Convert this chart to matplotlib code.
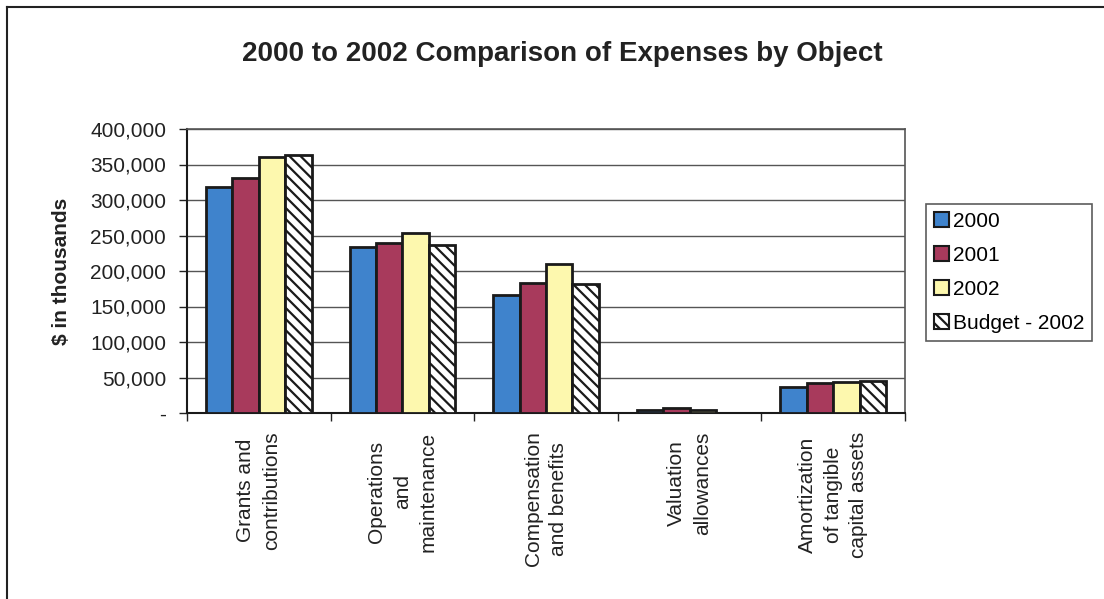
import matplotlib
matplotlib.use("Agg")
import matplotlib.pyplot as plt
from matplotlib.lines import Line2D
from matplotlib.patches import Patch
from matplotlib.ticker import FuncFormatter, MultipleLocator
import numpy as np

plt.rcParams['font.family'] = ['Liberation Sans', 'DejaVu Sans']
plt.rcParams['hatch.linewidth'] = 1.6

categories = [
    "Grants and\ncontributions",
    "Operations\nand\nmaintenance",
    "Compensation\nand benefits",
    "Valuation\nallowances",
    "Amortization\nof tangible\ncapital assets",
]
series_names = ["2000", "2001", "2002", "Budget - 2002"]
values_2000 = [318000, 234000, 166000, 4000, 36000]
values_2001 = [331000, 240000, 183000, 6500, 42000]
values_2002 = [360000, 254000, 210000, 4500, 43000]
values_budget = [364000, 237000, 182000, 0, 45000]

colors = ["#3f83cc", "#a83a5c", "#fdf8ae", "white"]
hatches = [None, None, None, "\\\\\\"]

W, H = 1104, 599
fig = plt.figure(figsize=(W / 100, H / 100), dpi=100)
ax = fig.add_axes([187 / W, (H - 413) / H, 718 / W, 284 / H])

x = np.arange(len(categories))
bw = 0.184
all_series = [values_2000, values_2001, values_2002, values_budget]
for i, vals in enumerate(all_series):
    offs = (i - 1.5) * bw
    ax.bar(x + offs, vals, width=bw, color=colors[i], edgecolor="#1a1a1a",
           linewidth=2, hatch=hatches[i], zorder=3)

ax.set_xlim(-0.5, len(categories) - 0.5)
ax.set_ylim(0, 400000)
ax.yaxis.set_major_locator(MultipleLocator(50000))
ax.yaxis.set_major_formatter(FuncFormatter(lambda v, p: "-" if v == 0 else f"{int(v):,}"))
ax.grid(axis="y", color="#555555", linewidth=1, zorder=0)
ax.tick_params(axis="y", direction="out", length=6, width=1, labelsize=15, pad=9, colors="#222222")

ax.set_xticks(np.arange(len(categories) + 1) - 0.5)
ax.set_xticklabels([])
ax.tick_params(axis="x", direction="out", length=6, width=1, colors="#222222")
for i, c in enumerate(categories):
    ax.text(i, -0.065, c, transform=ax.get_xaxis_transform(), rotation=90,
            ha="center", va="top", multialignment="center", fontsize=15,
            color="#222222", linespacing=1.45)

for s in ["left", "bottom"]:
    ax.spines[s].set_color("#1a1a1a")
    ax.spines[s].set_linewidth(1.5)
for s in ["top", "right"]:
    ax.spines[s].set_color("#555555")
    ax.spines[s].set_linewidth(1.2)

ax.set_ylabel("$ in thousands", fontsize=15, fontweight="bold", labelpad=14, color="#222222")

fig.text(562 / W, 1 - 54 / H, "2000 to 2002 Comparison of Expenses by Object",
         ha="center", va="center", fontsize=20, fontweight="bold", color="#222222")

handles = [Patch(facecolor=colors[i], edgecolor="#1a1a1a", linewidth=1.5,
                 hatch=hatches[i], label=series_names[i]) for i in range(4)]
leg = fig.legend(handles=handles, loc="upper left",
                 bbox_to_anchor=(926 / W, 1 - 204 / H), fontsize=15,
                 frameon=True, fancybox=False, edgecolor="#333333",
                 handlelength=0.7, handleheight=0.7, handletextpad=0.2,
                 labelspacing=0.72, borderpad=0.38, borderaxespad=0)
leg.get_frame().set_linewidth(1.2)

# outer frame
fig.add_artist(Line2D([7 / W, 1], [1 - 7 / H, 1 - 7 / H], transform=fig.transFigure,
                      color="#222222", linewidth=1.5))
fig.add_artist(Line2D([7 / W, 7 / W], [0, 1 - 7 / H], transform=fig.transFigure,
                      color="#222222", linewidth=1.5))

fig.savefig("out.png", dpi=100, facecolor="white")
